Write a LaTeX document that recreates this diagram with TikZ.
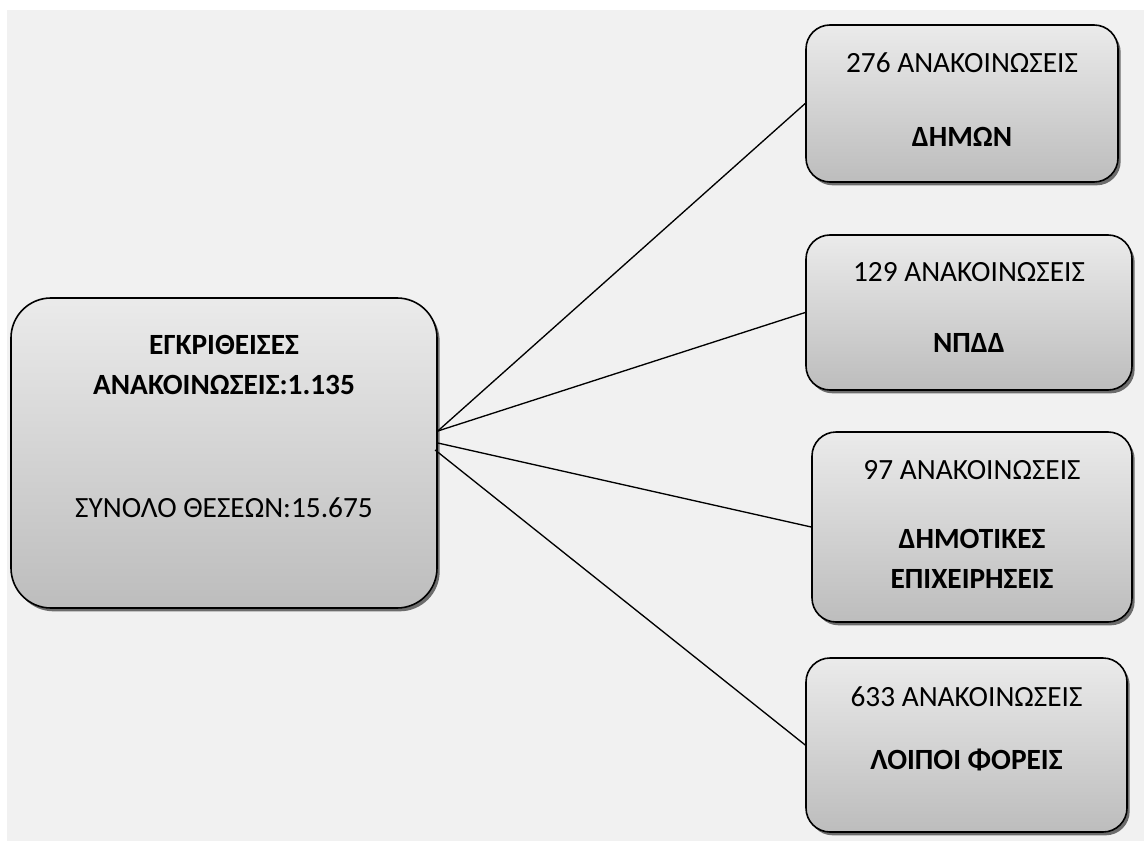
\documentclass[tikz,border=0pt]{standalone}
\usepackage{fontspec}
\setmainfont{Carlito}
\usetikzlibrary{shadows}

\definecolor{bggray}{HTML}{F1F1F1}

\tikzset{
  box/.style={draw=black, line width=1.2pt, rounded corners=18pt,
    top color=black!8, bottom color=black!26,
    drop shadow={shadow xshift=2pt, shadow yshift=-2.5pt, fill=black, opacity=0.55}},
  txt/.style={align=center, inner sep=0pt, font=\fontsize{22}{30}\selectfont},
  bold/.style={txt, font=\fontsize{22}{30}\selectfont\bfseries},
  link/.style={black, line width=1pt}
}

\begin{document}
\begin{tikzpicture}[x=0.75pt,y=-0.75pt]

\useasboundingbox (0,0) rectangle (1144,841);
\fill[bggray] (7,10) rectangle (1144,841);

\node[box,rounded corners=30pt,minimum width=319.5pt,minimum height=232.5pt] (main) at (224,453) {};
\node[box,minimum width=234pt,minimum height=117.75pt] (dimon) at (962,103.5) {};
\node[box,minimum width=244.5pt,minimum height=116.25pt] (npdd) at (969,312.5) {};
\node[box,minimum width=240pt,minimum height=142.5pt] (epix) at (972,527) {};
\node[box,minimum width=240.75pt,minimum height=130.5pt] (loipoi) at (966.5,745) {};

\node[bold] (mainhead) at (224,365) {ΕΓΚΡΙΘΕΙΣΕΣ\\ΑΝΑΚΟΙΝΩΣΕΙΣ:1.135};
\node[txt] (mainsum) at (224,508) {ΣΥΝΟΛΟ ΘΕΣΕΩΝ:15.675};

\node[txt] (dimoncount) at (962,63) {276 ΑΝΑΚΟΙΝΩΣΕΙΣ};
\node[bold] (dimonname) at (962,137) {ΔΗΜΩΝ};
\node[txt] (npddcount) at (969,272) {129 ΑΝΑΚΟΙΝΩΣΕΙΣ};
\node[bold] (npddname) at (969,343) {ΝΠΔΔ};
\node[txt] (epixcount) at (972,470) {97 ΑΝΑΚΟΙΝΩΣΕΙΣ};
\node[bold] (epixname) at (972,559) {ΔΗΜΟΤΙΚΕΣ\\ΕΠΙΧΕΙΡΗΣΕΙΣ};
\node[txt] (loipoicount) at (966.5,697) {633 ΑΝΑΚΟΙΝΩΣΕΙΣ};
\node[bold] (loipoiname) at (966.5,760) {ΛΟΙΠΟΙ ΦΟΡΕΙΣ};

\draw[link] ([yshift=16.5pt]main.east) -- (dimon.west);
\draw[link] ([yshift=16.5pt]main.east) -- (npdd.west);
\draw[link] ([yshift=7.5pt]main.east) -- (epix.west);
\draw[link] ([xshift=-2pt,yshift=2.25pt]main.east) -- (loipoi.west);

\end{tikzpicture}
\end{document}
